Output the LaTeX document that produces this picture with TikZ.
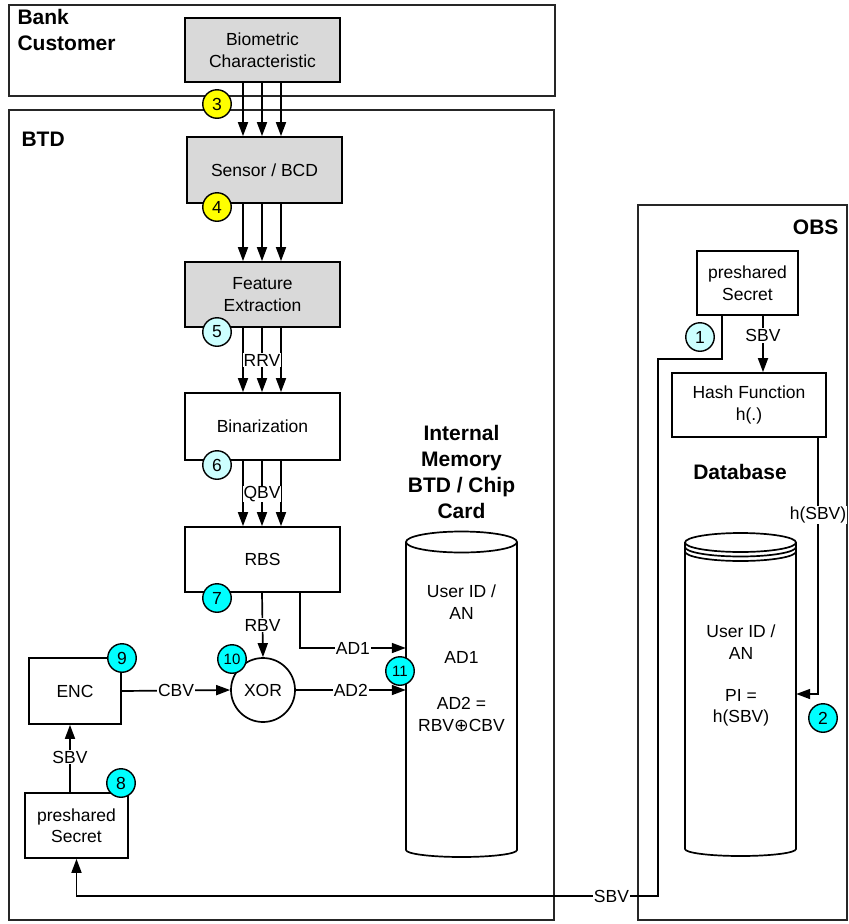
\documentclass[tikz,border=0pt]{standalone}
\usepackage{fontspec}
\setmainfont{Liberation Sans}
\newfontfamily\symfont{DejaVu Sans}
\usetikzlibrary{arrows.meta}
\definecolor{boxgray}{HTML}{D9D9D9}
\definecolor{lcyan}{HTML}{CCFFFF}
\definecolor{ccyan}{HTML}{00FFFF}
\definecolor{cyell}{HTML}{FFFF00}
\begin{document}
\begin{tikzpicture}[x=1pt,y=-1pt,
  txt/.style={font=\fontsize{17.5}{21.5}\selectfont, align=center},
  hdr/.style={font=\fontsize{21}{26}\selectfont\bfseries, align=center},
  frame/.style={draw=black!85, line width=1.5pt},
  blk/.style={draw, line width=1.7pt, txt, inner sep=0pt},
  gblk/.style={blk, fill=boxgray},
  arr/.style={line width=1.7pt, -{Triangle[length=14pt,width=10pt]}},
  ln/.style={line width=1.7pt},
  lbl/.style={fill=white, inner sep=1pt, txt},
  num/.style={circle, draw, line width=1.4pt, minimum size=28.5pt, inner sep=0pt, font=\fontsize{17.5}{20}\selectfont},
  numb/.style={num, font=\fontsize{15}{18}\selectfont}
]
\useasboundingbox (0,0) rectangle (849,924);
% frames
\draw[frame] (9,5) rectangle (555,96);
\node[hdr, anchor=north west, align=left] (bank) at (14,6) {Bank\\Customer};
\draw[frame] (9,110) rectangle (554,920);
\node[hdr, anchor=west] (btd) at (18,139) {BTD};
\draw[frame] (638,205) rectangle (847,920);
\node[hdr, anchor=east] (obs) at (842,227) {OBS};

% left column blocks
\node[gblk, minimum width=155pt, minimum height=64pt] (bio) at (262.5,50) {Biometric\\Characteristic};
\node[gblk, minimum width=155pt, minimum height=66pt] (sensor) at (264.5,170) {Sensor / BCD};
\node[gblk, minimum width=155pt, minimum height=65pt] (feat) at (262.5,294.5) {Feature\\Extraction};
\node[blk, fill=white, minimum width=155pt, minimum height=67pt] (bin) at (262.5,426.5) {Binarization};
\node[blk, fill=white, minimum width=155pt, minimum height=65pt] (rbs) at (262.5,559.5) {RBS};
\node[blk, circle, fill=white, minimum size=64pt] (xor) at (263,690) {XOR};
\node[blk, fill=white, minimum width=92pt, minimum height=66pt] (enc) at (75,691) {ENC};
\node[blk, fill=white, minimum width=103pt, minimum height=65pt] (psl) at (76.5,825.5) {preshared\\Secret};

\coordinate (xa) at (243,0);
\coordinate (xb) at (262,0);
\coordinate (xc) at (281,0);
\foreach \c in {xa,xb,xc}{
  \draw[arr] (bio.south -| \c) -- (sensor.north -| \c);
  \draw[arr] (sensor.south -| \c) -- (feat.north -| \c);
  \draw[arr] (feat.south -| \c) -- (bin.north -| \c);
  \draw[arr] (bin.south -| \c) -- (rbs.north -| \c);
}
\node[lbl, inner sep=0.5pt] (rrv) at (262,360) {RRV};
\node[lbl, inner sep=0.5pt] (qbv) at (262,494) {QBV};

% memory cylinder
\draw[ln, fill=white] (406,542) -- (406,850) arc[start angle=180, end angle=0, x radius=55.5, y radius=7] -- (517,542);
\draw[ln, fill=white] (461.5,542) ellipse[x radius=55.5, y radius=10.5];
\node[inner sep=0pt, minimum width=111pt, minimum height=300pt] (mem) at (461.5,700) {};
\node[txt] (memt1) at (461.5,602) {User ID /\\AN};
\node[txt] (memt2) at (461.5,657) {AD1};
\node[txt, inner sep=0pt] (memt3) at (461.5,703) {AD2 =};
\node[txt, inner sep=0pt] (memt4) at (461.5,726) {RBV{\symfont ⊕}CBV};
\node[hdr] (memtitle) at (461.5,472) {Internal\\Memory\\BTD / Chip\\Card};

% connectors in BTD
\draw[arr] (rbs.south -| xb) -- (xor.north) node[lbl, pos=0.5] {RBV};
\coordinate (ad1) at (300,648);
\draw[arr] (rbs.south -| ad1) -- (ad1) -- (ad1 -| mem.west) node[lbl, pos=0.5] {AD1};
\draw[arr] (xor.east) -- (xor.east -| mem.west) node[lbl, pos=0.5] {AD2};
\draw[arr] (enc.east) -- (xor.west) node[lbl, pos=0.5] {CBV};
\coordinate (sx) at (70,0);
\draw[arr] (psl.north -| sx) -- (enc.south -| sx) node[lbl, pos=0.52] {SBV};

% OBS
\node[blk, fill=white, minimum width=101pt, minimum height=64pt] (psr) at (747.5,283) {preshared\\Secret};
\node[blk, fill=white, minimum width=154pt, minimum height=64pt] (hash) at (749,405) {Hash Function\\h(.)};
\coordinate (hx) at (763,0);
\draw[arr] (psr.south -| hx) -- (hash.north -| hx) node[lbl, pos=0.35] {SBV};
\node[hdr] (dbtitle) at (740,472) {Database};

% database cylinder
\draw[ln, fill=white] (685,542.5) -- (685,849) arc[start angle=180, end angle=0, x radius=55.5, y radius=7] -- (796,542.5);
\draw[ln, fill=white] (740.5,542.5) ellipse[x radius=55.5, y radius=9.5];
\draw[ln] (685,547) arc[start angle=180, end angle=0, x radius=55.5, y radius=9.5];
\draw[ln] (685,551.5) arc[start angle=180, end angle=0, x radius=55.5, y radius=9.5];
\node[inner sep=0pt, minimum width=111pt, minimum height=296pt] (db) at (740.5,702) {};
\node[txt] (dbt1) at (741,642) {User ID /\\AN};
\node[txt] (dbt2) at (741,708) {PI =\\h(SBV)};

\coordinate (hr) at (818,694);
\draw[arr] (hash.south -| hr) -- (hr) node[lbl, pos=0.3] {h(SBV)} -- (hr -| db.east);

% SBV long line
\coordinate (c1) at (722,359);
\coordinate (c2) at (658,896);
\draw[arr] (psr.south -| c1) -- (c1) -- (c1 -| c2) -- (c2) -- (c2 -| psl.south) node[lbl, pos=0.08] {SBV} -- (psl.south);

% numbered circles
\node[num, fill=cyell] (n3) at (217,104) {3};
\node[num, fill=cyell] (n4) at (217,207) {4};
\node[num, fill=lcyan] (n5) at (217,332) {5};
\node[num, fill=lcyan] (n6) at (217,465) {6};
\node[num, fill=ccyan] (n7) at (217,598) {7};
\node[num, fill=ccyan] (n8) at (121,783) {8};
\node[num, fill=ccyan] (n9) at (122,658) {9};
\node[numb, fill=ccyan] (n10) at (232,659) {10};
\node[numb, fill=ccyan] (n11) at (400,671) {11};
\node[num, fill=lcyan] (n1) at (700,337) {1};
\node[num, fill=ccyan] (n2) at (823,718) {2};
\end{tikzpicture}
\end{document}
